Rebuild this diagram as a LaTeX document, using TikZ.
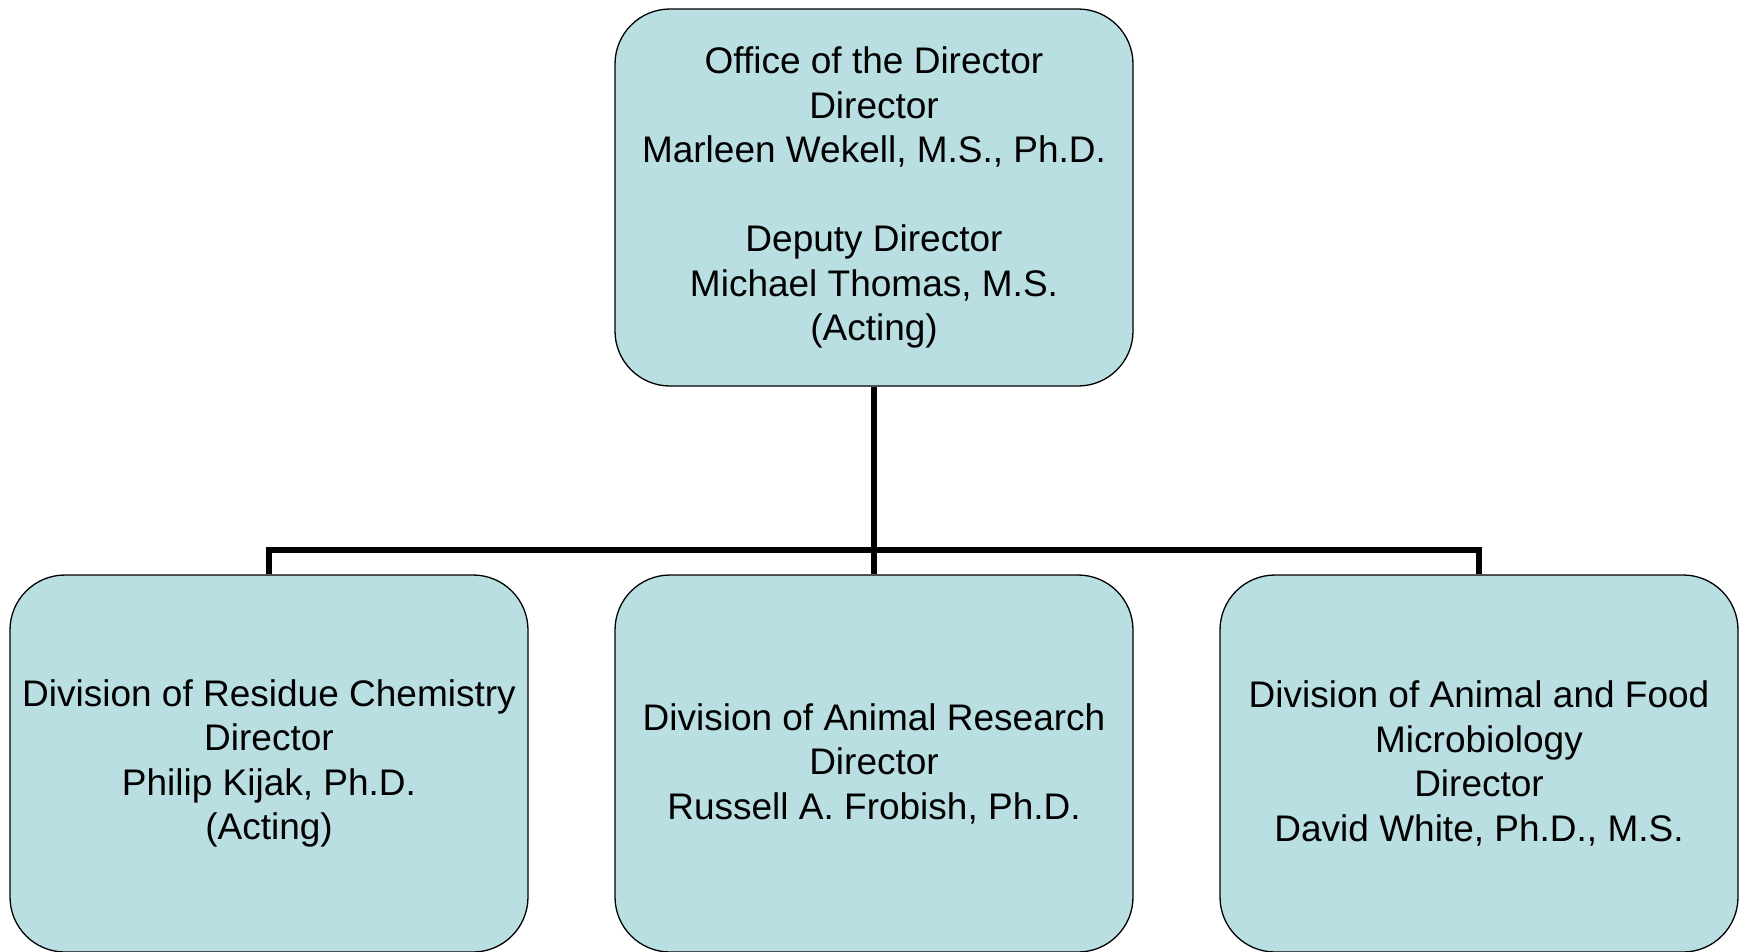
\documentclass[tikz,border=0pt]{standalone}
\usepackage{fontspec}
\setmainfont{Liberation Sans}
\usepackage{tikz}
\definecolor{boxfill}{RGB}{185,223,227}

\begin{document}
\begin{tikzpicture}[x=1pt,y=-1pt,
    unit/.style={draw=black, line width=1.3pt, fill=boxfill, rounded corners=55pt,
        minimum width=518pt, minimum height=377pt, align=center, inner sep=0pt,
        font=\fontsize{37}{44.5}\selectfont},
    link/.style={line width=5.5pt}]
    \path [use as bounding box] (0,0) rectangle (1744,951);
    \node [unit] (office) at (874,197.5)
        {Office of the Director\\Director\\Marleen Wekell, M.S., Ph.D.\\[44.5pt]Deputy Director\\Michael Thomas, M.S.\\(Acting)};
    \node [unit] (residue) at (269,763.5)
        {Division of Residue Chemistry\\Director\\Philip Kijak, Ph.D.\\(Acting)};
    \node [unit] (research) at (874,763.5)
        {Division of Animal Research\\Director\\Russell A. Frobish, Ph.D.};
    \node [unit] (micro) at (1479,763.5)
        {Division of Animal and Food\\Microbiology\\Director\\David White, Ph.D., M.S.};
    \coordinate (bar) at (874,550);
    \draw[link] (office.south) -- (research.north);
    \draw[link] (residue.north) |- (bar) -| (micro.north);
\end{tikzpicture}
\end{document}
